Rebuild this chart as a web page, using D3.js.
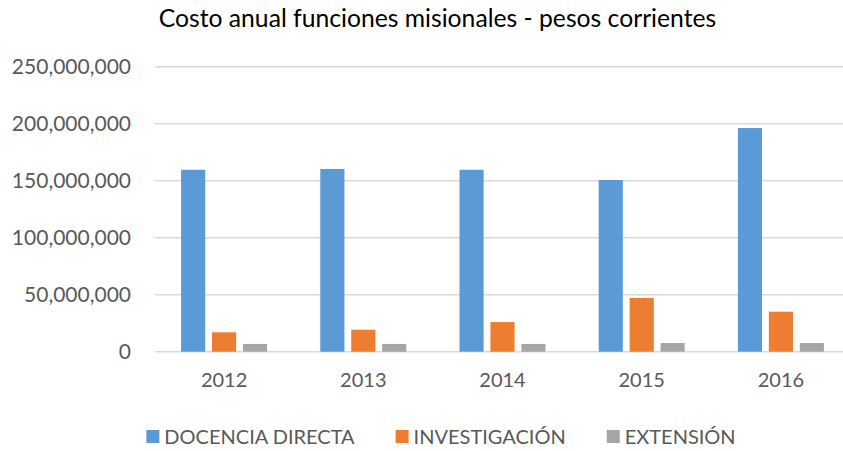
<!DOCTYPE html>
<html>
<head>
<meta charset="utf-8">
<script src="https://cdn.jsdelivr.net/npm/d3@7"></script>
<style>
  body { margin: 0; background: #fff; }
  svg { display: block; font-family: Lato, "Open Sans", sans-serif; }
</style>
</head>
<body>
<svg id="chart"></svg>
<script>
const years = ['2012', '2013', '2014', '2015', '2016'];
const seriesNames = ['DOCENCIA DIRECTA', 'INVESTIGACIÓN', 'EXTENSIÓN'];
const docencia = [159600000, 160300000, 159600000, 150600000, 196200000];
const investigacion = [17000000, 19300000, 26000000, 47100000, 35100000];
const extension = [6800000, 6800000, 6800000, 7600000, 7600000];
const yTicks = [0, 50000000, 100000000, 150000000, 200000000, 250000000];
const colors = ['#5B9BD5', '#ED7D31', '#A5A5A5'];

const width = 843;
const height = 451;
const values = [docencia, investigacion, extension];
const rows = years.map((y, i) => ({
    year: y,
    vals: seriesNames.map((s, j) => ({ name: s, value: values[j][i], color: colors[j] }))
}));

const svg = d3.select('#chart')
    .attr('width', width)
    .attr('height', height);

const x0 = d3.scaleBand()
    .domain(years)
    .range([154.5, 850.5])
    .paddingInner(0.382)
    .paddingOuter(0.191);

const x1 = d3.scaleBand()
    .domain(seriesNames)
    .range([0, x0.bandwidth()])
    .paddingInner(0.22);

const yScale = d3.scaleLinear()
    .domain([0, 250000000])
    .range([351.7, 66.7]);

// grid
svg.append('g')
    .selectAll('line')
    .data(yTicks)
    .enter()
    .append('line')
    .attr('x1', 155)
    .attr('x2', width)
    .attr('y1', d => yScale(d))
    .attr('y2', d => yScale(d))
    .attr('stroke', '#D9D9D9')
    .attr('stroke-width', 1.6);

// y axis labels
const yAxis = d3.axisLeft(yScale)
    .tickValues(yTicks)
    .tickFormat(d3.format(','))
    .tickSize(0)
    .tickPadding(0);

svg.append('g')
    .attr('transform', 'translate(131,0)')
    .call(yAxis)
    .call(g => g.select('.domain').remove())
    .selectAll('text')
    .attr('font-family', 'Lato, sans-serif')
    .attr('font-size', 21)
    .attr('fill', '#595959');

// bars
svg.append('g')
    .selectAll('g')
    .data(rows)
    .enter()
    .append('g')
    .attr('transform', d => `translate(${x0(d.year)},0)`)
    .selectAll('rect')
    .data(d => d.vals)
    .enter()
    .append('rect')
    .attr('x', d => x1(d.name))
    .attr('width', x1.bandwidth())
    .attr('y', d => yScale(d.value))
    .attr('height', d => yScale(0) - yScale(d.value))
    .attr('fill', d => d.color);

// x axis labels
const xAxis = d3.axisBottom(x0)
    .tickSize(0)
    .tickPadding(0);

svg.append('g')
    .attr('transform', 'translate(0,373)')
    .call(xAxis)
    .call(g => g.select('.domain').remove())
    .selectAll('text')
    .attr('font-family', 'Lato, sans-serif')
    .attr('font-size', 20)
    .attr('fill', '#595959');

// title
svg.append('text')
    .attr('x', 437.5)
    .attr('y', 27)
    .attr('text-anchor', 'middle')
    .attr('font-size', 24.7)
    .attr('fill', '#000')
    .text('Costo anual funciones misionales - pesos corrientes');

// legend
const legend = svg.append('g');
const items = legend.selectAll('g')
    .data(seriesNames)
    .enter()
    .append('g');

items.append('rect')
    .attr('width', 13)
    .attr('height', 13)
    .attr('y', 430)
    .attr('fill', (_, i) => colors[i]);

items.append('text')
    .attr('x', 18)
    .attr('y', 444)
    .attr('font-size', 20)
    .attr('fill', '#595959')
    .text(d => d);

let cursor = 0;
items.each(function () {
    const w = this.querySelector('text').getComputedTextLength();
    d3.select(this).attr('transform', `translate(${cursor},0)`);
    cursor += 18 + w + 41;
});
const legendWidth = cursor - 41;
legend.attr('transform', `translate(${441 - legendWidth / 2},0)`);
</script>
</body>
</html>
